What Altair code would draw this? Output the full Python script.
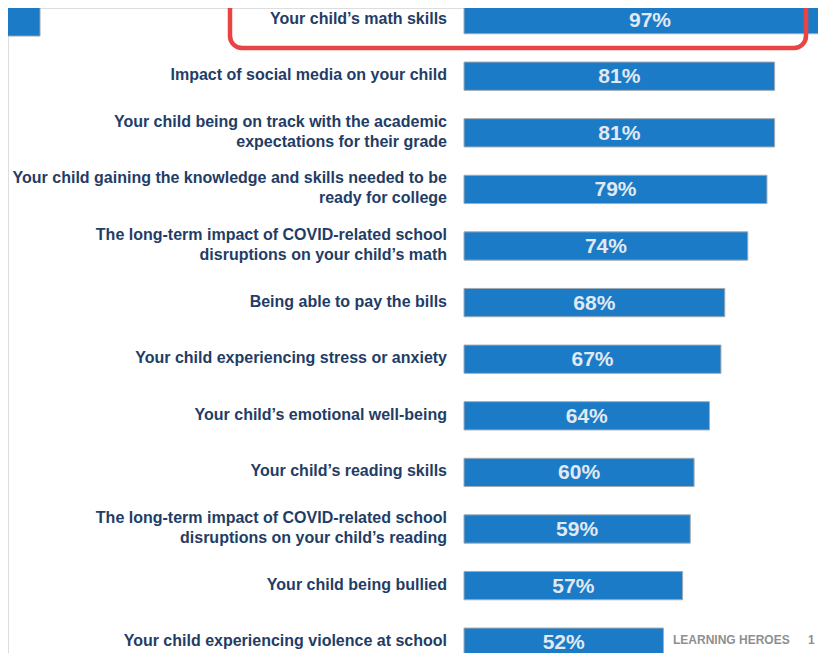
import altair as alt
import pandas as pd

labels = [
    "Your child\u2019s math skills",
    "Impact of social media on your child",
    "Your child being on track with the academic\nexpectations for their grade",
    "Your child gaining the knowledge and skills needed to be\nready for college",
    "The long-term impact of COVID-related school\ndisruptions on your child\u2019s math",
    "Being able to pay the bills",
    "Your child experiencing stress or anxiety",
    "Your child\u2019s emotional well-being",
    "Your child\u2019s reading skills",
    "The long-term impact of COVID-related school\ndisruptions on your child\u2019s reading",
    "Your child being bullied",
    "Your child experiencing violence at school",
]
values = [97, 81, 81, 79, 74, 68, 67, 64, 60, 59, 57, 52]
footer_text = ["LEARNING HEROES"]
page_number = ["1"]

df = pd.DataFrame({"label": labels, "value": values})
df["pct"] = df["value"].astype(str) + "%"
df["half"] = df["value"] / 2

xscale = alt.Scale(domain=[0, 100], range=[456, 839.5])
yscale = alt.Scale(range=[-16.7, 662.5], paddingInner=0.5, paddingOuter=0.25)
yenc = alt.Y("label:N", sort=labels, scale=yscale, axis=None)

base = alt.Chart(df)

bars = base.mark_bar(color="#1b7bc6", stroke="#a3aab3", strokeWidth=1, clip=True).encode(
    x=alt.X("value:Q", scale=xscale, axis=None),
    y=yenc,
)

pcts = base.mark_text(
    font="Liberation Sans", fontWeight="bold", fontSize=21, color="#e1e9f2",
    align="center", baseline="middle", dy=1, clip=True,
).encode(
    x=alt.X("half:Q", scale=xscale, axis=None),
    y=yenc,
    text="pct:N",
)

label_style = dict(
    font="Liberation Sans", fontWeight="bold", fontSize=16, color="#1f3d66",
    align="right", baseline="middle", lineBreak="\n", lineHeight=20,
)

lbls_single = base.transform_filter(
    "indexof(datum.label, '\\n') < 0"
).mark_text(dy=-1, **label_style).encode(
    x=alt.value(439),
    y=yenc,
    text="label:N",
)

lbls_double = base.transform_filter(
    "indexof(datum.label, '\\n') >= 0"
).mark_text(dy=-11, **label_style).encode(
    x=alt.value(439),
    y=yenc,
    text="label:N",
)

one = pd.DataFrame({"t": [0]})

box = alt.Chart(one).mark_rect(
    fill="transparent", stroke="#ea4343", strokeWidth=4.5, cornerRadius=12,
).encode(
    x=alt.value(222), x2=alt.value(798), y=alt.value(-20), y2=alt.value(40),
)

square = alt.Chart(one).mark_rect(
    color="#1b7bc6", stroke="#9aa3ad", strokeWidth=1,
).encode(
    x=alt.value(-8), x2=alt.value(32), y=alt.value(-1), y2=alt.value(28),
)

footer = alt.Chart(pd.DataFrame({"t": footer_text})).mark_text(
    font="Liberation Sans", fontWeight="bold", fontSize=12, color="#8f8f8f",
    align="left", baseline="middle",
).encode(x=alt.value(665), y=alt.value(632), text="t:N")

pageno = alt.Chart(pd.DataFrame({"t": page_number})).mark_text(
    font="Liberation Sans", fontWeight="bold", fontSize=12, color="#8f8f8f",
    align="left", baseline="middle",
).encode(x=alt.value(800), y=alt.value(632), text="t:N")

chart = alt.layer(bars, pcts, lbls_single, lbls_double, square, box, footer, pageno).properties(
    width=810, height=645, padding=0, autosize=alt.AutoSizeParams(type="none"),
).configure_view(strokeWidth=0, stroke="transparent").configure(background="white")

chart.save("out.html", embed_options={"renderer": "svg", "actions": False})
